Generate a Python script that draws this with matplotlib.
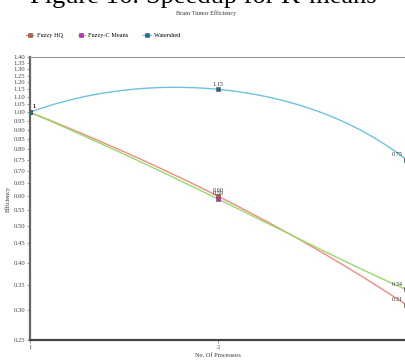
import numpy as np
import matplotlib.pyplot as plt
from matplotlib.ticker import FixedLocator, NullLocator

# Brain tumor efficiency data
processors = [1, 2, 3]
fuzzy_hq = [1.0, 0.60, 0.31]
fuzzy_cm = [1.0, 0.59, 0.34]
watershed = [1.0, 1.15, 0.75]
labels_hq = ['1', '0.60', '0.31']
labels_cm = ['1', '0.59', '0.34']
labels_ws = ['1', '1.15', '0.75']
y_ticks = [round(0.25 + 0.05 * i, 2) for i in range(24)]

plt.rcParams['font.family'] = ['Liberation Serif', 'DejaVu Serif']

fig = plt.figure(figsize=(4.06, 3.62), dpi=100)
ax = fig.add_axes([30 / 406, 1 - 340 / 362, 1 - 30 / 406, (340 - 57) / 362])

series = [
    ('Fuzzy HQ', fuzzy_hq, labels_hq, '#f28b82', '#e0502a'),
    ('Fuzzy-C Means', fuzzy_cm, labels_cm, '#9ad86a', '#d322d3'),
    ('Watershed', watershed, labels_ws, '#6cc3e0', '#1b6f8c'),
]

for name, vals, labs, lc, mc in series:
    # smooth curve through the points (quadratic)
    coef = np.polyfit(processors, vals, 2)
    xs = np.linspace(processors[0], processors[-1], 200)
    ax.plot(xs, np.polyval(coef, xs), color=lc, lw=1.0, zorder=2)
    ax.plot(processors, vals, ls='none', marker='s', ms=3.5, mfc=mc,
            mec='#555555', mew=0.4, zorder=3, clip_on=True)
    ax.plot([], [], color=lc, lw=1.0, marker='s', ms=3.5, mfc=mc,
            mec='#555555', mew=0.4, label=name)
    for x, v, t in zip(processors, vals, labs):
        if x == 1:
            dx, ha = 2, 'left'
        elif x == 3:
            dx, ha = -10, 'left'
        else:
            dx, ha = 0, 'center'
        ax.annotate(t, (x, v), xytext=(dx, 2), textcoords='offset points',
                    ha=ha, va='bottom', fontsize=4.5, color='#333333',
                    annotation_clip=False)

ax.set_yscale('log')
ax.set_ylim(0.25, 1.40)
ax.yaxis.set_major_locator(FixedLocator(y_ticks))
ax.yaxis.set_minor_locator(NullLocator())
ax.set_yticklabels(['%.2f' % t for t in y_ticks])
ax.set_xlim(1, 3)
ax.set_xticks([1, 2])
ax.set_xticklabels(['1', '2'])
ax.tick_params(axis='both', labelsize=4.8, length=2, width=0.5,
               colors='#777777', labelcolor='#444444', pad=1.5)

ax.spines['left'].set_color('#666666')
ax.spines['left'].set_linewidth(1.6)
ax.spines['bottom'].set_color('#444444')
ax.spines['bottom'].set_linewidth(1.6)
ax.spines['top'].set_color('#999999')
ax.spines['top'].set_linewidth(0.8)
ax.spines['right'].set_visible(False)

ax.set_ylabel('Efficiency', fontsize=4.5, labelpad=2, color='#333333')
ax.set_xlabel('No. Of Processors', fontsize=4.5, labelpad=2, color='#333333')

fig.text(0.508, 1 - 13 / 362, 'Brain Tumor Efficiency', ha='center',
         va='center', fontsize=4.5, color='#333333')
fig.text(0.5, 1 - 3.5 / 362, 'Figure 16: Speedup for K-means', ha='center',
         va='baseline', fontsize=19, color='black')

fig.legend(loc='upper left', bbox_to_anchor=(0.05, 0.925), ncol=3,
           fontsize=4.5, frameon=False, handlelength=1.2, columnspacing=2.4,
           handletextpad=0.5)

fig.savefig('out.png', dpi=100)
